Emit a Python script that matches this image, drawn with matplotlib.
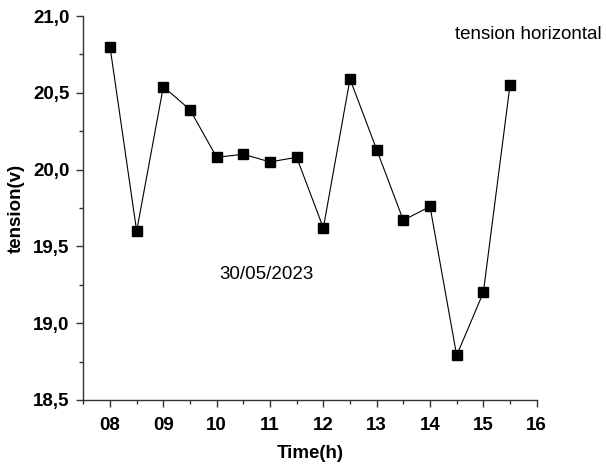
import matplotlib
matplotlib.use('Agg')
from matplotlib import pyplot as plt
from matplotlib.ticker import MultipleLocator, FuncFormatter

plt.rcParams['font.family'] = ['Liberation Sans', 'DejaVu Sans']

# data
time_h = [8.0, 8.5, 9.0, 9.5, 10.0, 10.5, 11.0, 11.5,
          12.0, 12.5, 13.0, 13.5, 14.0, 14.5, 15.0, 15.5]
tension = [20.80, 19.60, 20.54, 20.39, 20.08, 20.10, 20.05, 20.08,
           19.62, 20.59, 20.13, 19.67, 19.76, 18.79, 19.20, 20.55]
xtick_vals = [8, 9, 10, 11, 12, 13, 14, 15, 16]
xtick_labels = ['08', '09', '10', '11', '12', '13', '14', '15', '16']

fig = plt.figure(figsize=(6.06, 4.67), dpi=100)
ax = fig.add_axes([0.1375, 0.1435, 0.7481, 0.8222])

ax.plot(time_h, tension, color='black', lw=0.8, marker='s',
        markersize=6.5, markerfacecolor='black', markeredgecolor='black')

ax.set_xlim(7.5, 16)
ax.set_ylim(18.5, 21.0)
ax.set_xticks(xtick_vals)
ax.set_xticklabels(xtick_labels)
ax.xaxis.set_minor_locator(MultipleLocator(0.5))
ax.yaxis.set_major_locator(MultipleLocator(0.5))
ax.yaxis.set_minor_locator(MultipleLocator(0.25))
ax.yaxis.set_major_formatter(FuncFormatter(lambda v, p: ('%.1f' % v).replace('.', ',')))

for s in ['top', 'right']:
    ax.spines[s].set_visible(False)
for s in ['left', 'bottom']:
    ax.spines[s].set_linewidth(1.0)
    ax.spines[s].set_color('#333333')

ax.tick_params(which='major', direction='out', length=5, width=1, color='#333333',
               labelsize=13.5, pad=5)
ax.tick_params(axis='x', which='major', pad=7)
ax.tick_params(which='minor', direction='out', length=3, width=1, color='#333333')
for lab in ax.get_xticklabels() + ax.get_yticklabels():
    lab.set_fontweight('bold')

ax.set_xlabel('Time(h)', fontsize=13.5, fontweight='bold', labelpad=8)
ax.set_ylabel('tension(v)', fontsize=13.5, fontweight='bold', labelpad=6)

fig.text(0.751, 0.916, 'tension horizontal', fontsize=13.5)
fig.text(0.362, 0.402, '30/05/2023', fontsize=13.5)

fig.savefig('out.png', dpi=100)
